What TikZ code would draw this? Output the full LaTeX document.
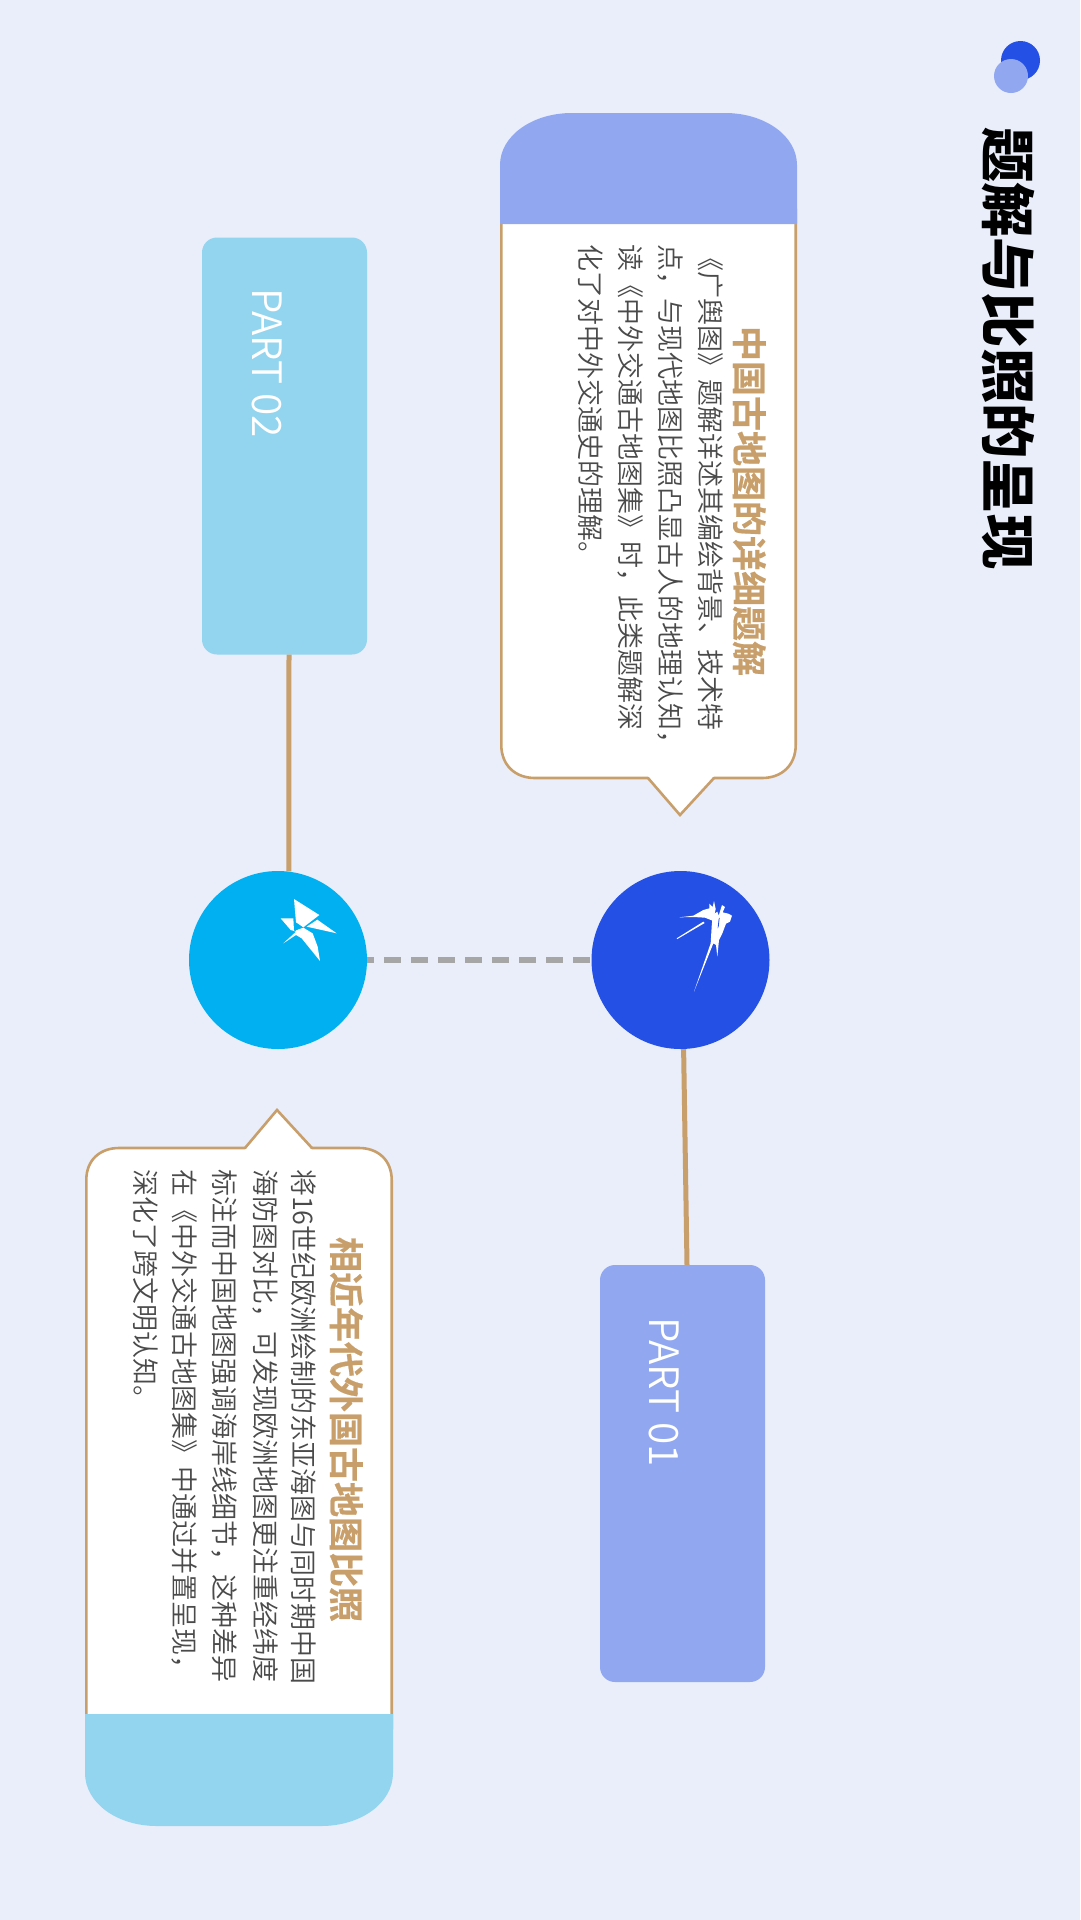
\documentclass[tikz,border=0pt]{standalone}
\usepackage{fontspec}
\setmainfont{Noto Sans CJK SC}
\newfontfamily\cjkblack{Noto Sans CJK SC Black}
\newfontfamily\cjkbold[FakeBold=0.6]{Noto Sans CJK SC Bold}
\newfontfamily\cjklight{Noto Sans CJK SC DemiLight}
\definecolor{bgc}{HTML}{E9EEFA}
\definecolor{brownc}{HTML}{C89F6A}
\definecolor{periw}{HTML}{91A8F0}
\definecolor{skyc}{HTML}{93D5EE}
\definecolor{cyanc}{HTML}{00B0F0}
\definecolor{royalc}{HTML}{2450E6}
\definecolor{grayc}{HTML}{A6A6A6}
\definecolor{bodyc}{HTML}{4A4A4A}
\tikzset{
  txt/.style={rotate=-90,anchor=base west,inner sep=0pt,outer sep=0pt},
  titletxt/.style={txt,font=\cjkblack\fontsize{55.3pt}{55.3pt}\selectfont,text=black},
  headtxt/.style={txt,font=\cjkbold\fontsize{35pt}{35pt}\selectfont,text=brownc},
  bodytxt/.style={txt,font=\cjklight\fontsize{27pt}{27pt}\selectfont,text=bodyc},
  parttxt/.style={txt,font=\cjklight\fontsize{40.5pt}{40.5pt}\selectfont,text=white},
  partbox/.style={rectangle,rounded corners=15pt,minimum width=165pt,minimum height=417pt,inner sep=0pt},
  disc/.style={circle,minimum size=178pt,inner sep=0pt},
  cardline/.style={draw=brownc,line width=2.6pt},
  link/.style={draw=brownc,line width=5pt},
  dashlink/.style={draw=grayc,line width=6.5pt,dash pattern=on 17pt off 10pt,dash phase=10pt}
}
\begin{document}
\begin{tikzpicture}[x=1pt,y=-1pt]
\useasboundingbox (0,0) rectangle (1080,1920);
\fill[bgc] (0,0) rectangle (1080,1920);

% top-right dots
\node[circle,minimum size=39pt,inner sep=0pt,fill=royalc] (dotA) at (1020.5,60.5) {};
\node[circle,minimum size=34pt,inner sep=0pt,fill=periw] (dotB) at (1011,76) {};
\node[titletxt] (title) at (987,127) {题解与比照的呈现};

% card 1
\path[cardline,fill=white] (501.3,210) -- (501.3,745) .. controls (501.3,765) and (515,778) .. (535,778)
  -- (762,778) .. controls (782,778) and (795.7,765) .. (795.7,745) -- (795.7,210) -- cycle;
\fill[white] (648,776) -- (680,815) -- (714,776) -- cycle;
\draw[cardline,line join=miter] (648,778) -- (680,815) -- (714,778);
\fill[periw] (500,224) -- (500,165) .. controls (500,136) and (532,113) .. (572,113)
  -- (725,113) .. controls (765,113) and (797,136) .. (797,165) -- (797,224) -- cycle;
\node[headtxt] (head1) at (736,326) {中国古地图的详细题解};
\node[bodytxt] (b11) at (700,244) {《广舆图》题解详述其编绘背景、技术特};
\node[bodytxt] (b12) at (660,244) {点，与现代地图比照凸显古人的地理认知，};
\node[bodytxt] (b13) at (620,244) {读《中外交通古地图集》时，此类题解深};
\node[bodytxt] (b14) at (580,244) {化了对中外交通史的理解。};

% card 2
\path[cardline,fill=white] (86.3,1728) -- (86.3,1180) .. controls (86.3,1160) and (100,1148) .. (119,1148)
  -- (359,1148) .. controls (378,1148) and (391.7,1160) .. (391.7,1180) -- (391.7,1728) -- cycle;
\fill[white] (245,1150) -- (277,1110) -- (312,1150) -- cycle;
\draw[cardline,line join=miter] (245,1148) -- (277,1110) -- (312,1148);
\fill[skyc] (85,1714) -- (85,1773) .. controls (85,1803) and (117,1826) .. (157,1826)
  -- (321,1826) .. controls (361,1826) and (393,1803) .. (393,1773) -- (393,1714) -- cycle;
\node[headtxt] (head2) at (333,1237) {相近年代外国古地图比照};
\node[bodytxt] (b21) at (293,1169) {将16世纪欧洲绘制的东亚海图与同时期中国};
\node[bodytxt] (b22) at (255,1169) {海防图对比，可发现欧洲地图更注重经纬度};
\node[bodytxt] (b23) at (214,1169) {标注而中国地图强调海岸线细节，这种差异};
\node[bodytxt] (b24) at (174,1169) {在《中外交通古地图集》中通过并置呈现，};
\node[bodytxt] (b25) at (135,1169) {深化了跨文明认知。};

% part boxes
\node[partbox,fill=skyc] (part2) at (284.5,446) {};
\node[partbox,fill=periw] (part1) at (682.5,1473.5) {};
\node[parttxt] (p2txt) at (252,288) {PART 02};
\node[parttxt] (p1txt) at (649,1317) {PART 01};

% discs
\node[disc,fill=cyanc] (circA) at (278,960) {};
\node[disc,fill=royalc] (circB) at (680.5,960) {};

% connectors
\draw[dashlink] (circA.east) -- (circB.west);
\draw[link] ([xshift=4.5pt]part2.south) -- (circA.83);
\draw[link] (circB.-88) -- ([xshift=4.5pt]part1.north);

% swallow icon A
\begin{scope}[shift={(270,885)},x=0.3333pt,y=-0.3333pt]
\fill[white] (72,42) -- (148,90) -- (100,127) -- (78,112) -- cycle;
\fill[white] (32,100) -- (70,100) -- (72,138) -- (62,135) -- cycle;
\fill[white] (110,125) -- (142,104) -- (200,145) -- cycle;
\fill[white] (40,175) -- (78,140) -- (72,138) -- (100,128) -- (128,145) -- (143,185) -- (150,228) -- (95,160) -- (78,150) -- cycle;
\fill[cyanc] (75,112) -- (95,125) -- (75,138) -- cycle;
\end{scope}

% swallow icon B
\begin{scope}[shift={(670,895)},x=0.3333pt,y=-0.3333pt]
\fill[white] (28,67) -- (70,62) -- (100,45) -- (118,40) -- (118,26) -- (128,36) -- (132,18) -- (137,42) -- (130,78) -- (105,68) -- (70,66) -- cycle;
\fill[white] (20,130) -- (100,80) -- (104,84) -- (22,132) -- cycle;
\fill[white] (72,290) -- (122,145) -- (125,95) -- (128,60) -- (142,50) -- (146,62) -- (156,30) -- (165,36) -- (158,52) -- (175,56) -- (186,62) -- (180,80) -- (168,86) -- (157,115) -- (147,135) -- (142,185) -- (138,150) -- (130,145) -- cycle;
\fill[royalc] (146,72) -- (149,68) -- (146,95) -- (143,100) -- cycle;
\end{scope}
\end{tikzpicture}
\end{document}
